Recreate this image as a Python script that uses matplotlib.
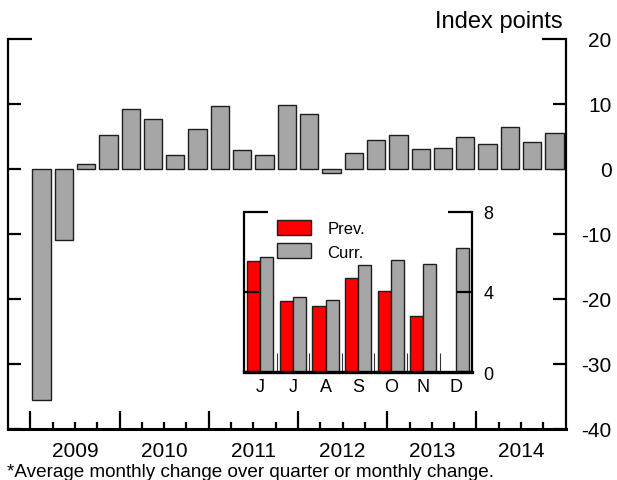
import matplotlib
matplotlib.use("Agg")
import matplotlib.pyplot as plt
import numpy as np

plt.rcParams['font.family'] = ['Liberation Sans', 'DejaVu Sans']

# ---- data ----
years = ['2009', '2010', '2011', '2012', '2013', '2014']
quarterly_values = [-35.5, -10.9, 0.8, 5.3, 9.3, 7.7, 2.1, 6.1, 9.7, 3.0, 2.1, 9.8,
                    8.5, -0.6, 2.4, 4.5, 5.3, 3.1, 3.3, 4.9, 3.9, 6.5, 4.2, 5.6]
main_yticks = [-40, -30, -20, -10, 0, 10, 20]

months = ['J', 'J', 'A', 'S', 'O', 'N', 'D']
prev_values = [5.55, 3.55, 3.31, 4.68, 4.06, 2.79, np.nan]
curr_values = [5.72, 3.73, 3.58, 5.34, 5.59, 5.37, 6.17]
inset_yticks = [0, 4, 8]

GRAY = '#a6a6a6'
RED = '#ff0000'
EDGE = '#1e1e1e'

W, H = 617, 481
fig = plt.figure(figsize=(W / 100, H / 100), dpi=100)

def px_axes(l, r, t, b):
    return [l / W, 1 - b / H, (r - l) / W, (b - t) / H]

# ---- main axes ----
ax = fig.add_axes(px_axes(8, 565.7, 40, 430))
n_q = len(quarterly_values)
xpos = np.arange(1, n_q + 1)
ax.bar(xpos, quarterly_values, width=0.82, color=GRAY, edgecolor=EDGE, linewidth=1.0, zorder=2)
ax.set_xlim(-0.5, n_q + 0.5)
ax.set_ylim(main_yticks[0], main_yticks[-1])

for s in ['left', 'right']:
    ax.spines[s].set_linewidth(1.6)
ax.spines['bottom'].set_linewidth(2.2)
ax.spines['top'].set_visible(False)

ax.set_yticks(main_yticks)
ax.set_yticklabels([str(v) for v in main_yticks])
ax.tick_params(axis='y', which='major', direction='in', left=True, right=True,
               labelleft=False, labelright=True, length=9.4, width=1.6,
               labelsize=15, pad=33)
plt.setp(ax.yaxis.get_majorticklabels(), ha='right')
for t in ax.yaxis.get_major_ticks():
    if t.get_loc() == main_yticks[-1]:
        t.tick1line.set_markersize(17.3)
        t.tick2line.set_markersize(17.3)

year_bounds = np.arange(0.5, n_q, 4)
quarter_bounds = [b for b in np.arange(1.5, n_q + 0.5, 1) if b not in year_bounds]
ax.set_xticks(year_bounds)
ax.set_xticklabels([])
ax.set_xticks(quarter_bounds, minor=True)
ax.tick_params(axis='x', which='major', direction='in', length=13, width=1.6)
ax.tick_params(axis='x', which='minor', direction='in', length=5, width=1.6)

for i, y in enumerate(years):
    ax.annotate(y, xy=(year_bounds[i] + 2, 0), xycoords=('data', 'axes fraction'),
                xytext=(0, -19.4), textcoords='offset points', ha='center', va='baseline',
                fontsize=15)

fig.text(562.7 / W, 1 - 28 / H, 'Index points', ha='right', va='baseline', fontsize=17)
fig.text(7 / W, 1 - 477.5 / H, '*Average monthly change over quarter or monthly change.',
         ha='left', va='baseline', fontsize=13.6)

# ---- inset ----
ins = fig.add_axes(px_axes(244, 472.3, 212.7, 373.3))
ins.set_facecolor('white')
gx = np.arange(1, len(months) + 1)
ins.bar(gx - 0.2, prev_values, width=0.4, color=RED, edgecolor=EDGE, linewidth=1.0, label='Prev.')
ins.bar(gx + 0.2, curr_values, width=0.4, color=GRAY, edgecolor=EDGE, linewidth=1.0, label='Curr.')
ins.set_xlim(0.5, len(months) + 0.5)
ins.set_ylim(inset_yticks[0], inset_yticks[-1])
ins.spines['top'].set_visible(False)
for s in ['left', 'right']:
    ins.spines[s].set_linewidth(1.6)
ins.spines['bottom'].set_linewidth(2.4)

ins.set_yticks(inset_yticks)
ins.set_yticklabels([str(v) for v in inset_yticks])
ins.tick_params(axis='y', direction='in', left=True, right=True, labelleft=False,
                labelright=True, length=10.8, width=1.6, labelsize=13, pad=8)
for t in ins.yaxis.get_major_ticks():
    if t.get_loc() == inset_yticks[-1]:
        t.tick1line.set_markersize(17.3)
        t.tick2line.set_markersize(17.3)

ins.set_xticks(gx)
ins.set_xticklabels(months)
ins.set_xticks(np.arange(1.5, len(months), 1), minor=True)
ins.tick_params(axis='x', which='major', length=0, labelsize=13, pad=4)
ins.tick_params(axis='x', which='minor', direction='in', length=13.7, width=0.8, color='#333333')

ins.legend(loc='upper left', bbox_to_anchor=(0.146, 0.95), frameon=False, fontsize=12,
           handlelength=2.05, handleheight=1.0, handletextpad=0.95, labelspacing=0.45,
           borderpad=0, borderaxespad=0)

fig.savefig('out.png', dpi=100)
